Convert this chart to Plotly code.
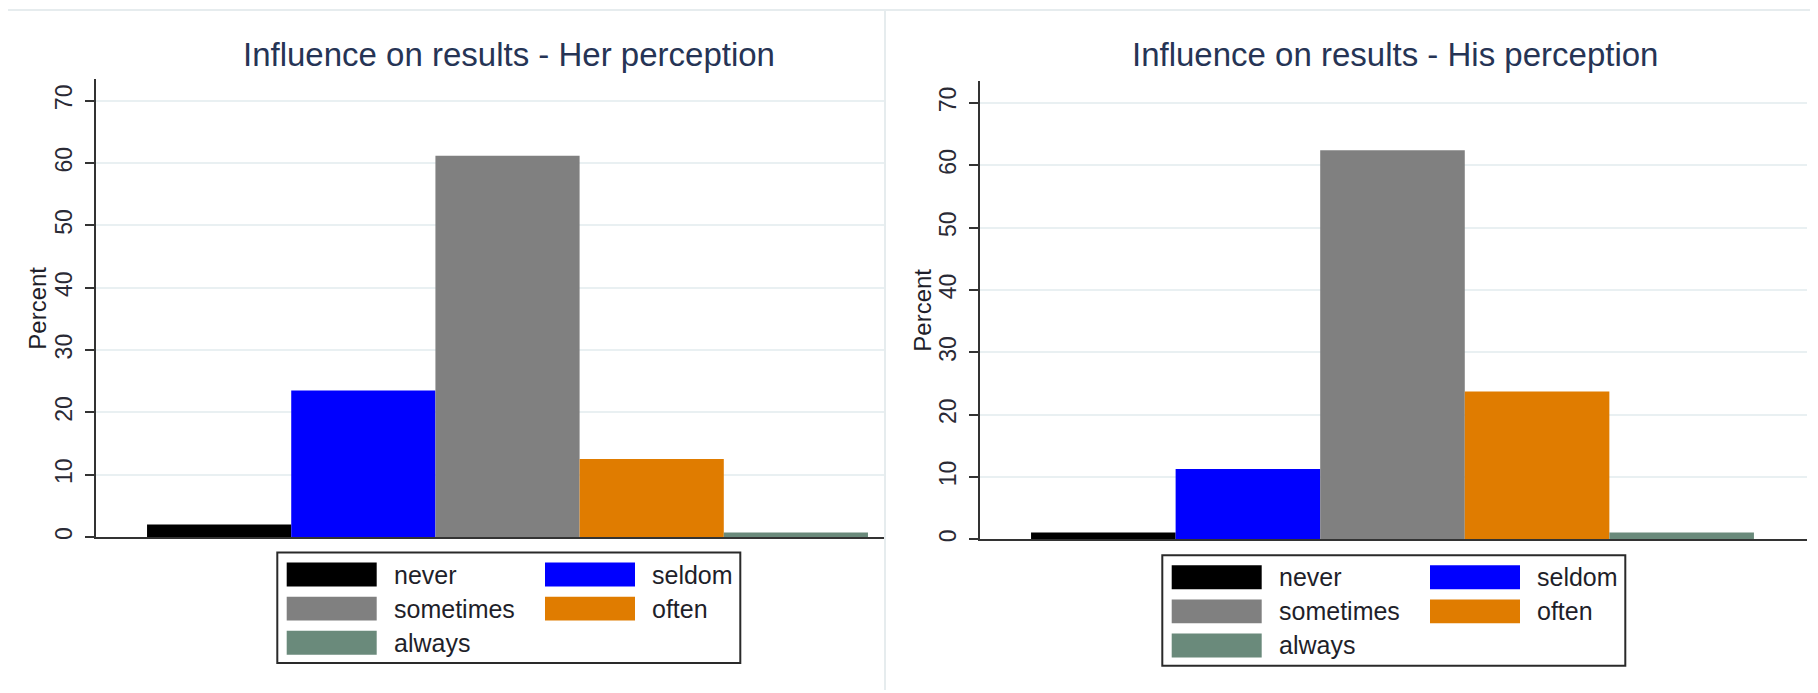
import plotly.graph_objects as go

# ---------------- data ----------------
categories = ["never", "seldom", "sometimes", "often", "always"]
her_percent = [2.0, 23.5, 61.2, 12.5, 0.7]
his_percent = [1.1, 11.3, 62.4, 23.7, 1.1]
colors = ["#000000", "#0000ff", "#808080", "#e07c00", "#6a8a7b"]
titles = ["Influence on results - Her perception", "Influence on results - His perception"]
y_ticks = [0, 10, 20, 30, 40, 50, 60, 70]

# the page body has an 8px margin; compensate so the figure lines up with the window
OFF = 8
W, H = 1818 - OFF, 693 - OFF
FONT = "Liberation Sans, Arial, sans-serif"


def px(x):
    return (x - OFF) / W


def py(y):
    return 1 - (y - OFF) / H


fig = go.Figure()

panels = [
    dict(values=her_percent, xa="x", ya="y", dom_x=(96, 886), dom_y=(539.3, 79.3),
         xr=[-0.854, 4.625], yr=[0, 73.5], title_x=509, legend=(277.3, 555), ylab_x=37.7),
    dict(values=his_percent, xa="x2", ya="y2", dom_x=(980, 1807), dom_y=(541.7, 81),
         xr=[-0.853, 4.867], yr=[0, 73.57], title_x=1395, legend=(1162.3, 557.7), ylab_x=921.7),
]

for p in panels:
    for i, (cat, val, col) in enumerate(zip(categories, p["values"], colors)):
        fig.add_trace(go.Bar(
            x=[i], y=[val], width=1, name=cat,
            marker=dict(color=col, line=dict(width=0)),
            xaxis=p["xa"], yaxis=p["ya"], showlegend=False,
        ))

shapes = []
annotations = []

# light frame lines of the screenshot panels
shapes.append(dict(type="line", xref="paper", yref="paper", x0=0, x1=1, y0=py(10), y1=py(10),
                   line=dict(color="#e6ecee", width=2)))
shapes.append(dict(type="line", xref="paper", yref="paper", x0=px(885), x1=px(885), y0=0, y1=py(10),
                   line=dict(color="#e6ecee", width=2)))
shapes.append(dict(type="line", xref="paper", yref="paper", x0=px(3), x1=px(3), y0=0, y1=py(10),
                   line=dict(color="#e6ecee", width=2)))

for k, p in enumerate(panels):
    # title
    annotations.append(dict(text=titles[k], xref="paper", yref="paper", x=px(p["title_x"]), y=py(55),
                            xanchor="center", yanchor="middle", showarrow=False,
                            font=dict(family=FONT, size=33, color="#263455")))
    # y-axis label
    y_mid = (p["dom_y"][0] + p["dom_y"][1]) / 2
    annotations.append(dict(text="Percent", xref="paper", yref="paper", x=px(p["ylab_x"]), y=py(y_mid),
                            xanchor="center", yanchor="middle", showarrow=False, textangle=-90,
                            font=dict(family=FONT, size=24, color="#1f1f2a")))
    # legend box
    lx, ly = p["legend"]
    shapes.append(dict(type="rect", xref="paper", yref="paper",
                       x0=px(lx), x1=px(lx + 463), y0=py(ly), y1=py(ly + 111),
                       line=dict(color="#2a2a2a", width=2), fillcolor="white"))
    col_sw = [9.4, 267.7]
    col_tx = [114.4, 372.7]
    for i, (cat, col) in enumerate(zip(categories, colors)):
        r, c = divmod(i, 2)
        top = ly + 10 + r * 34.3
        shapes.append(dict(type="rect", xref="paper", yref="paper",
                           x0=px(lx + col_sw[c]), x1=px(lx + col_sw[c] + 90),
                           y0=py(top), y1=py(top + 24),
                           line=dict(width=0), fillcolor=col))
        annotations.append(dict(text=cat, xref="paper", yref="paper",
                                x=px(lx + col_tx[c]), y=py(top + 12),
                                xanchor="left", yanchor="middle", showarrow=False,
                                font=dict(family=FONT, size=25, color="#1f1f2a")))

axis_common_x = dict(showline=True, linecolor="#333333", linewidth=2, showgrid=False,
                     showticklabels=False, ticks="", zeroline=False, fixedrange=True)
axis_common_y = dict(showline=True, linecolor="#333333", linewidth=2, showgrid=True,
                     gridcolor="#e9f0f2", gridwidth=1.5, zeroline=False,
                     tickmode="array", tickvals=y_ticks, ticktext=[str(t) for t in y_ticks],
                     tickangle=-90, ticks="outside", ticklen=9, tickwidth=2, tickcolor="#333333",
                     tickfont=dict(family=FONT, size=23, color="#2a2a35"),
                     ticklabelstandoff=4)

fig.update_layout(
    width=W, height=H,
    margin=dict(l=0, r=0, t=0, b=0),
    paper_bgcolor="white", plot_bgcolor="white",
    barmode="overlay",
    shapes=shapes, annotations=annotations,
    xaxis=dict(domain=[px(96), px(886)], range=panels[0]["xr"], anchor="y", **axis_common_x),
    yaxis=dict(domain=[py(539.3), py(79.3)], range=panels[0]["yr"], anchor="x", **axis_common_y),
    xaxis2=dict(domain=[px(980), px(1807)], range=panels[1]["xr"], anchor="y2", **axis_common_x),
    yaxis2=dict(domain=[py(541.7), py(81)], range=panels[1]["yr"], anchor="x2", **axis_common_y),
)

fig.write_html("out.html")
